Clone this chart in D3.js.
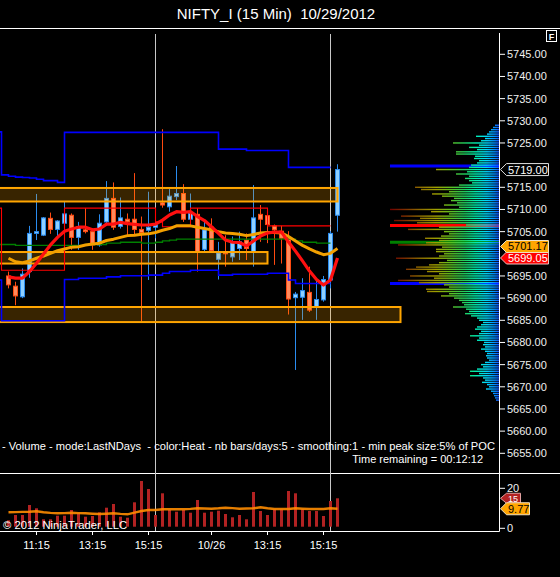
<!DOCTYPE html>
<html><head><meta charset="utf-8">
<script src="https://cdn.jsdelivr.net/npm/d3@7/dist/d3.min.js"></script>
<style>
body{margin:0;background:#000;}
svg{display:block;}
text{font-family:"Liberation Sans",Arial,sans-serif;}
</style>
</head><body>
<svg id="c" width="560" height="577"></svg>
<script>
// ---------------- DATA ----------------
const times = ["10:15","10:30","10:45","11:00","11:15","11:30","11:45","12:00","12:15","12:30","12:45","13:00","13:15","13:30","13:45","14:00","14:15","14:30","14:45","15:00","15:15","15:30",
 "09:30","09:45","10:00","10:15","10:30","10:45","11:00","11:15","11:30","11:45","12:00","12:15","12:30","12:45","13:00","13:15","13:30","13:45","14:00","14:15","14:30","14:45","15:00","15:15","15:30","09:30"];
const axisLabelIdx = [4, 12, 20, 29, 37, 45];
const axisLabelText = ["11:15", "13:15", "15:15", "10/26", "13:15", "15:15"];
const sessionBars = [21, 46];

const open  = [5695.0,5692.7,5690.3,5696.0,5704.6,5704.2,5708.0,5705.5,5706.9,5708.7,5703.7,5705.4,5705.0,5702.0,5707.2,5712.5,5706.2,5707.8,5707.8,5705.5,5705.3,5706.0,
               5711.5,5710.6,5712.9,5713.6,5707.8,5708.9,5701.0,5706.0,5698.75,5700.5,5699.3,5701.2,5703.1,5700.5,5708.9,5708.6,5706.3,5705.1,5703.5,5690.1,5690.2,5691.3,5688.1,5689.6,5694.1,5708.7];
const high  = [5696.0,5693.7,5696.7,5706.3,5713.5,5708.3,5709.3,5707.6,5711.7,5709.1,5707.2,5710.3,5705.7,5708.9,5716.4,5716.1,5712.7,5709.1,5718.2,5708.4,5714.0,5707.2,
               5728.1,5714.6,5719.8,5715.7,5713.6,5710.3,5707.2,5708.0,5702.7,5704.2,5703.9,5705.0,5704.6,5715.5,5711.0,5710.3,5706.6,5706.3,5705.1,5691.4,5694.5,5697.1,5694.3,5695.0,5705.1,5720.2];
const low   = [5692.2,5688.4,5690.0,5694.6,5703.1,5704.0,5704.5,5703.3,5705.4,5700.9,5700.9,5704.6,5700.9,5701.6,5706.5,5705.4,5705.7,5704.2,5704.2,5684.7,5694.1,5703.5,
               5710.4,5709.5,5712.1,5707.2,5707.6,5696.0,5700.5,5700.7,5694.2,5697.1,5698.2,5698.6,5698.6,5697.1,5702.7,5702.4,5697.5,5697.8,5686.3,5673.8,5685.1,5686.9,5685.1,5689.2,5692.2,5705.0];
const close = [5693.0,5690.5,5695.4,5704.6,5705.0,5708.1,5705.5,5707.4,5709.0,5703.7,5706.1,5705.0,5702.0,5706.9,5712.5,5706.0,5708.1,5707.2,5705.5,5704.8,5706.0,5706.5,
               5711.0,5713.0,5713.6,5707.8,5709.1,5700.5,5705.4,5700.7,5700.2,5700.0,5702.7,5702.7,5701.2,5708.1,5707.8,5706.6,5705.4,5703.5,5689.8,5690.9,5691.7,5687.3,5689.7,5694.2,5704.6,5719.0];

const maFast = [5694.8,5694.5,5694.5,5696.0,5697.85,5699.95,5702.0,5703.7,5705.1,5705.6,5706.0,5706.0,5705.4,5705.6,5706.7,5706.7,5707.1,5706.8,5706.65,5706.5,5706.5,5706.7,
                5707.6,5708.75,5709.5,5709.35,5709.5,5708.4,5707.5,5706.1,5704.6,5703.1,5702.6,5702.55,5701.75,5702.9,5704.0,5704.7,5704.9,5704.9,5702.65,5700.6,5698.4,5696.1,5694.2,5692.95,5694.1,5699.05];
const maSlow = [5699.0,5698.2,5698.0,5698.4,5699.0,5699.5,5700.1,5700.7,5701.1,5701.5,5701.6,5702.0,5702.2,5702.4,5703.0,5703.3,5703.7,5704.1,5704.2,5704.4,5704.5,5704.8,
                5705.3,5705.7,5706.3,5706.3,5706.3,5706.0,5705.7,5705.4,5705.0,5704.7,5704.6,5704.4,5704.1,5704.35,5704.7,5704.8,5704.8,5704.7,5703.9,5702.9,5701.9,5701.1,5700.4,5699.8,5700.1,5701.17];

// step lines start at bar index -2
const bandStart = -2;
const upperBand = [5727.5,5717.8,5717.5,5717.3,5717.2,5717.1,5716.8,5716.5,5716.5,5716.1,
  5727.4,5727.4,5727.4,5727.4,5727.4,5727.4,5727.4,5727.4,5727.4,5727.4,5727.4,5727.4,5727.4,5727.4,5727.4,5727.4,5727.4,5727.4,5727.4,5727.4,5727.4,5727.4,
  5723.6,5723.6,5723.6,5723.6,5723.3,5723.3,5723.3,5723.3,5723.3,5723.3,5719.5,5719.5,5719.5,5719.5,5719.5,5719.5,5719.5];
const lowerBand = [5694.1,5684.9,5684.9,5684.9,5684.9,5684.9,5684.9,5684.9,5684.9,5684.9,
  5694.2,5694.2,5694.5,5694.5,5694.5,5694.5,5694.8,5694.8,5695.05,5695.05,5695.05,5695.05,5695.2,5695.2,5695.6,5696.0,5696.0,5696.0,5696.3,5696.3,5696.3,5696.3,
  5695.2,5695.2,5695.4,5695.4,5695.4,5695.4,5695.4,5695.6,5695.6,5695.6,5694.1,5693.3,5693.3,5693.3,5693.3,5693.3,5693.3];
const redStep = [5710.3,5696.3,5696.3,5696.3,5696.3,5696.3,5696.3,5696.3,5696.3,5696.3,
  5710.3,5710.3,5710.3,5710.3,5710.3,5710.3,5710.3,5710.3,5710.3,5710.3,5710.3,5710.3,5710.3,5707.2,5706.1,5706.1,5706.1,5706.1,
  5710.3,5710.3,5710.3,5710.3,5710.3,5710.3,5710.3,5710.3,5710.3,5710.3,5710.3,
  5706.3,5706.3,5706.3,5706.3,5706.3,5706.3,5706.3,5706.3,5706.3,5706.3];
const greenStep = [5702.1,5702.1,5702.1,5701.9,5701.9,5701.9,5701.9,5701.9,5701.9,5701.9,5701.9,5701.9,5701.9,
  5702.1,5702.1,5702.1,5702.4,5702.4,5702.6,5702.6,5702.6,5702.4,5702.4,5702.6,5702.9,5703.1,
  5703.3,5703.3,5703.3,5703.3,5703.3,5703.3,5703.3,5703.3,5703.3,5703.3,5703.3,5703.3,5703.3,5703.3,5703.3,5703.3,5703.3,
  5702.9,5702.6,5702.6,5702.4,5702.4,5702.4];

const zoneTop    = [5714.85, 5700.4, 5688.0];
const zoneBottom = [5711.8, 5697.8, 5684.6];
const zoneEndBar = [47, 37, 56];

const volume = [4.0,6.65,6.65,11.65,10.0,4.5,4.5,6.3,6.3,9.15,7.5,5.8,6.15,8.0,10.3,12.15,5.8,5.3,13.0,23.65,19.65,6.65,
                17.5,9.15,8.3,9.15,7.8,14.15,7.8,8.3,8.8,7.15,5.5,6.65,4.5,18.15,8.65,6.65,9.5,9.5,18.65,17.5,9.5,8.65,8.65,6.15,13.65,15];
const volumeSMA = [8.0,8.1,8.2,8.3,8.5,8.0,7.7,7.5,7.6,7.8,7.6,7.5,7.3,7.15,7.3,7.5,7.2,7.0,7.8,8.65,9.15,9.15,
                   9.5,9.5,9.5,9.5,9.7,10.0,9.9,9.8,10.0,10.3,10.1,9.8,9.9,10.0,10.5,10.0,9.65,9.65,9.65,10.0,9.8,9.65,9.65,9.65,10.0,9.77];

const priceTicks = [5745,5740,5735,5730,5725,5715,5710,5705,5695,5690,5685,5680,5675,5670,5665,5660,5655];
const volTicks = [20, 0];

// volume profile: price levels from 5729.0 down by 0.5
const profileTop = 5729.0, profileStep = 0.5;
const profileVol = [4,6,8,10,12,23,14,18,46,20,30,22,43,43,24,25,20,22,28,30,
  63,32,43,30,34,30,27,40,84,78,50,67,57,45,48,42,55,40,109,68,
  50,98,79,105,82,33,60,91,55,50,58,74,60,73,101,57,63,63,55,60,
  103,52,60,70,83,93,72,60,89,65,101,80,55,50,73,72,50,58,45,40,
  37,35,46,33,30,34,28,22,20,16,18,22,24,18,20,29,20,22,15,16,
  14,18,14,12,13,12,10,14,18,16,22,29,20,29,16,14,17,12,10,13,
  8,6,5,4,3];
const profileMarks = [5719.8, 5706.4, 5702.6, 5693.3];
const profileMarkColors = ["#0000FF", "#FF0000", "#008000", "#0000FF"];

const lastPrice = 5719.00;
const title = "NIFTY_I (15 Min)  10/29/2012";
const footer = "- Volume - mode:LastNDays  - color:Heat - nb bars/days:5 - smoothing:1 - min peak size:5% of POC";
const timeRemaining = "Time remaining = 00:12:12";
const copyright = "\u00A9 2012 NinjaTrader, LLC";

// ---------------- DRAW ----------------
const svg = d3.select("#c");
svg.append("rect").attr("width",560).attr("height",577).attr("fill","#000");
const defs = svg.append("defs");
defs.append("clipPath").attr("id","mainClip").append("rect").attr("x",0).attr("y",29).attr("width",499).attr("height",444);

const grad = defs.append("linearGradient").attr("id","heat").attr("gradientUnits","userSpaceOnUse")
  .attr("x1",500).attr("x2",390).attr("y1",0).attr("y2",0);
[[0,"#1a40ff"],[0.05,"#0090ff"],[0.12,"#00d8ff"],[0.22,"#00f0b0"],[0.32,"#20d060"],[0.45,"#60c020"],
 [0.58,"#a0a000"],[0.72,"#907000"],[0.86,"#803000"],[1,"#700000"]].forEach(s=>{
  grad.append("stop").attr("offset",s[0]).attr("stop-color",s[1]);
});

const x = d3.scaleLinear().domain([0,47]).range([8.5,337.5]);
const y = d3.scaleLinear().domain([5655,5745]).range([453.3,54.3]);
const yv = d3.scaleLinear().domain([0,20]).range([528.3,488.3]);
const xp = d3.scaleLinear().domain([0,110]).range([499,389]);

// title
svg.append("text").attr("x",276).attr("y",19).attr("text-anchor","middle").attr("fill","#fff")
  .attr("font-size",15).style("white-space","pre").text(title);

// frame lines
svg.append("line").attr("x1",0).attr("x2",560).attr("y1",28.5).attr("y2",28.5).attr("stroke","#fff");
svg.append("line").attr("x1",0).attr("x2",560).attr("y1",473.5).attr("y2",473.5).attr("stroke","#fff");
svg.append("line").attr("x1",0).attr("x2",499.5).attr("y1",531.5).attr("y2",531.5).attr("stroke","#fff");
svg.append("line").attr("x1",499.5).attr("x2",499.5).attr("y1",33).attr("y2",531.5).attr("stroke","#fff");

// session lines
svg.selectAll(".sess").data(sessionBars).enter().append("line")
  .attr("x1",d=>x(d)).attr("x2",d=>x(d)).attr("y1",34).attr("y2",531)
  .attr("stroke","#c8c8c8").attr("stroke-width",1);

const main = svg.append("g").attr("clip-path","url(#mainClip)");

// candles
const bars = d3.range(open.length);
const up = i => close[i] >= open[i];
main.selectAll(".wick").data(bars).enter().append("line")
  .attr("x1",i=>x(i)).attr("x2",i=>x(i)).attr("y1",i=>y(high[i])).attr("y2",i=>y(low[i]))
  .attr("stroke",i=>up(i)?"#2a8cf0":"#ff4a10").attr("stroke-width",1);
main.selectAll(".body").data(bars).enter().append("rect")
  .attr("x",i=>x(i)-2).attr("width",4)
  .attr("y",i=>y(Math.max(open[i],close[i])))
  .attr("height",i=>Math.max(1,Math.abs(y(open[i])-y(close[i]))))
  .attr("fill",i=>up(i)?"#8fd0ff":"#ff8a5c")
  .attr("stroke",i=>up(i)?"#2a8cf0":"#ff4a10").attr("stroke-width",1);

// zones
main.selectAll(".zone").data(zoneTop).enter().append("rect")
  .attr("x",-5).attr("y",(d,k)=>y(zoneTop[k]))
  .attr("width",(d,k)=>x(zoneEndBar[k])+5)
  .attr("height",(d,k)=>y(zoneBottom[k])-y(zoneTop[k]))
  .attr("fill","rgba(255,165,0,0.22)").attr("stroke","#FFA500").attr("stroke-width",2);

// step lines
const stepLine = d3.line().x((d,i)=>x(i+bandStart)).y(d=>y(d)).curve(d3.curveStepAfter);
main.append("path").attr("d",stepLine(upperBand)).attr("fill","none").attr("stroke","#0000FF").attr("stroke-width",1.6);
main.append("path").attr("d",stepLine(lowerBand)).attr("fill","none").attr("stroke","#0000FF").attr("stroke-width",1.6);
main.append("path").attr("d",stepLine(greenStep)).attr("fill","none").attr("stroke","#008000").attr("stroke-width",1.3);
main.append("path").attr("d",stepLine(redStep)).attr("fill","none").attr("stroke","#FF0000").attr("stroke-width",1.1);

// moving averages
const maLine = d3.line().x((d,i)=>x(i)).y(d=>y(d));
main.append("path").attr("d",maLine(maSlow)).attr("fill","none").attr("stroke","#F2A000").attr("stroke-width",3).attr("stroke-linejoin","round");
main.append("path").attr("d",maLine(maFast)).attr("fill","none").attr("stroke","#FF1010").attr("stroke-width",3.2).attr("stroke-linejoin","round");

// volume profile
svg.selectAll(".pmark").data(profileMarks).enter().append("line")
  .attr("x1",390).attr("x2",499).attr("y1",d=>y(d)).attr("y2",d=>y(d))
  .attr("stroke",(d,k)=>profileMarkColors[k]).attr("stroke-width",3);
svg.selectAll(".prow").data(profileVol).enter().append("rect")
  .attr("x",d=>xp(d)).attr("width",d=>499-xp(d))
  .attr("y",(d,i)=>y(profileTop-i*profileStep)-0.7).attr("height",1.4)
  .attr("fill","url(#heat)");

// y axis ticks
const yt = svg.append("g");
priceTicks.forEach(p=>{
  yt.append("line").attr("x1",499.5).attr("x2",505).attr("y1",y(p)).attr("y2",y(p)).attr("stroke","#fff");
  yt.append("text").attr("x",507).attr("y",y(p)+4).attr("fill","#f0f0f0").attr("font-size",11).text(d3.format(".2f")(p));
});
volTicks.forEach(v=>{
  yt.append("line").attr("x1",499.5).attr("x2",505).attr("y1",yv(v)).attr("y2",yv(v)).attr("stroke","#fff");
  yt.append("text").attr("x",507).attr("y",yv(v)+4).attr("fill","#f0f0f0").attr("font-size",11).text(v);
});

// tags
function tag(yc, label, fill, stroke, tcolor, right, fs, h){
  fs = fs || 11; h = h || 6;
  const g = svg.append("g");
  g.append("path").attr("d",`M500.5,${yc} L506.5,${yc-h} L${right},${yc-h} L${right},${yc+h} L506.5,${yc+h} Z`)
    .attr("fill",fill).attr("stroke",stroke).attr("stroke-width",1);
  g.append("text").attr("x",508).attr("y",yc+fs*0.36).attr("fill",tcolor).attr("font-size",fs).text(label);
}
tag(y(lastPrice), d3.format(".2f")(lastPrice), "#000", "#e0e0e0", "#fff", 548.5);
const yRed = y(maFast[maFast.length-1]);
let yOr = y(maSlow[maSlow.length-1]);
if (Math.abs(yOr - yRed) < 12) yOr = yRed - 11.5;
tag(yRed, d3.format(".2f")(maFast[maFast.length-1]), "#FF0000", "#f0c0c0", "#fff", 548.5);
tag(yOr, d3.format(".2f")(maSlow[maSlow.length-1]), "#FFA500", "#f0e0c0", "#000", 548.5);

// bottom-of-panel texts
svg.append("text").attr("x",2).attr("y",449.5).attr("fill","#fff").attr("font-size",11)
  .attr("textLength",493).attr("lengthAdjust","spacingAndGlyphs").style("white-space","pre").text(footer);
svg.append("text").attr("x",483).attr("y",462.5).attr("text-anchor","end").attr("fill","#fff").attr("font-size",11).text(timeRemaining);

// volume panel
const vg = svg.append("g");
vg.selectAll(".vbar").data(volume).enter().append("rect")
  .attr("x",(d,i)=>x(i)-1.5).attr("width",3)
  .attr("y",d=>yv(d)).attr("height",d=>yv(0)-1.6-yv(d))
  .attr("fill","#B22222");
vg.append("path").attr("d",d3.line().x((d,i)=>x(i)).y(d=>yv(d))(volumeSMA))
  .attr("fill","none").attr("stroke","#FF8C00").attr("stroke-width",2.4).attr("stroke-opacity",0.9);
svg.append("text").attr("x",3).attr("y",529).attr("fill","#fff").attr("font-size",11)
  .attr("textLength",124).attr("lengthAdjust","spacingAndGlyphs").text(copyright);

let yVol = yv(volume[volume.length-1]);
const ySma = yv(volumeSMA[volumeSMA.length-1]);
if (Math.abs(yVol - ySma) < 12) yVol = ySma - 10.5;
tag(yVol, String(volume[volume.length-1]), "#B22222", "#e0a0a0", "#fff", 520.5, 9, 5);
tag(ySma, String(volumeSMA[volumeSMA.length-1]), "#FFA500", "#f0e0c0", "#000", 529.5);

// x axis
axisLabelIdx.forEach((bi,k)=>{
  svg.append("line").attr("x1",x(bi)).attr("x2",x(bi)).attr("y1",531.5).attr("y2",535).attr("stroke","#fff");
  svg.append("text").attr("x",x(bi)).attr("y",549).attr("text-anchor","middle").attr("fill","#fff").attr("font-size",11).text(axisLabelText[k]);
});

// F box
svg.append("rect").attr("x",546.5).attr("y",30.5).attr("width",10).attr("height",11).attr("fill","#000").attr("stroke","#fff");
svg.append("text").attr("x",551.5).attr("y",39.5).attr("text-anchor","middle").attr("fill","#fff").attr("font-size",9).attr("font-weight","bold").text("F");
</script>
</body></html>
